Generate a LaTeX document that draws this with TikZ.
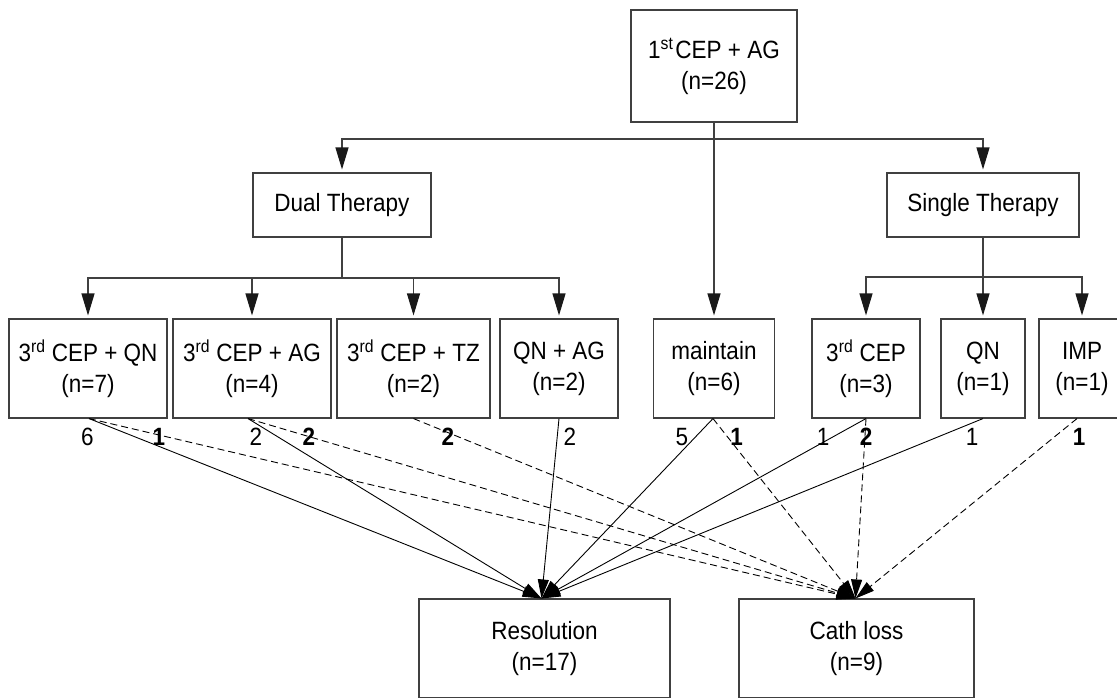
\documentclass[tikz,border=0pt]{standalone}
\usepackage{fontspec}
\setmainfont[FakeStretch=0.9]{Liberation Sans}
\usetikzlibrary{arrows.meta}
\begin{document}
\begin{tikzpicture}[x=1pt,y=-1pt,
  every node/.style={font=\fontsize{25}{31}\selectfont},
  boxnode/.style={draw=black!75, line width=1.1pt, rectangle, inner sep=0pt, align=center, minimum height=99pt},
  treeline/.style={draw=black!75, line width=1.1pt},
  treearrow/.style={treeline, -{Triangle[length=22pt,width=13pt,color=black!90]}, shorten >=3pt},
  outarrow/.style={draw=black, line width=0.9pt, -{Triangle[length=19pt,width=11pt]}},
  outdash/.style={outarrow, dash pattern=on 7pt off 4pt},
  cnt/.style={inner sep=0pt, anchor=center},
  bcnt/.style={cnt, font=\fontsize{25}{31}\selectfont\bfseries}
]
\useasboundingbox (0,0) rectangle (1117,697);
\clip (0,0) rectangle (1117,697);

% nodes
\node[boxnode, minimum width=166pt, minimum height=112pt] (top) at (714,66) {1\textsuperscript{st}\hspace{2pt}CEP + AG\\(n=26)};
\node[boxnode, minimum width=178pt, minimum height=64pt] (dual) at (342,205) {Dual Therapy};
\node[boxnode, minimum width=192pt, minimum height=64pt] (single) at (983,205) {Single Therapy};

\node[boxnode, minimum width=158pt] (b1) at (88,368.5) {3\textsuperscript{rd} CEP + QN\\(n=7)};
\node[boxnode, minimum width=158pt] (b2) at (252,368.5) {3\textsuperscript{rd} CEP + AG\\(n=4)};
\node[boxnode, minimum width=153pt] (b3) at (413.5,368.5) {3\textsuperscript{rd} CEP + TZ\\(n=2)};
\node[boxnode, minimum width=118pt] (b4) at (559,368.5) {QN + AG\\(n=2)};
\node[boxnode, minimum width=121pt] (maint) at (714,368.5) {maintain\\(n=6)};
\node[boxnode, minimum width=108pt] (cep3) at (866,368.5) {3\textsuperscript{rd} CEP\\(n=3)};
\node[boxnode, minimum width=84pt] (qn) at (983,368.5) {QN\\(n=1)};
\node[boxnode, minimum width=86pt] (imp) at (1082,368.5) {IMP\\(n=1)};

\node[boxnode, minimum width=251pt] (res) at (544.5,648.5) {Resolution\\(n=17)};
\node[boxnode, minimum width=235pt] (cath) at (856.5,648.5) {Cath loss\\(n=9)};

% tree connectors
\coordinate (split) at (714,139);
\coordinate (dsplit) at (342,278);
\coordinate (ssplit) at (983,277);
\draw[treearrow] (top) -- (maint);
\draw[treearrow] (split) -| (dual);
\draw[treearrow] (split) -| (single);
\draw[treeline] (dual) -- (dsplit);
\draw[treearrow] (dsplit) -| (b1);
\draw[treearrow] (dsplit) -| (b2);
\draw[treearrow] (dsplit) -| (b3);
\draw[treearrow] (dsplit) -| (b4);
\draw[treearrow] (single) -- (qn);
\draw[treearrow] (ssplit) -| (cep3);
\draw[treearrow] (ssplit) -| (imp);

% outcome connectors
\coordinate (rin) at ([xshift=-3pt]res.north);
\coordinate (cin) at ([xshift=-1pt]cath.north);
\draw[outarrow] ([xshift=1pt]b1.south) -- (rin);
\draw[outarrow] ([xshift=-4pt]b2.south) -- (rin);
\draw[outarrow] (b4.south) -- (rin);
\draw[outarrow] ([xshift=-1pt]maint.south) -- (rin);
\draw[outarrow] (cep3.south) -- (rin);
\draw[outarrow] (qn.south) -- (rin);

\draw[outdash] ([xshift=1pt]b1.south) -- (cin);
\draw[outdash] ([xshift=-4pt]b2.south) -- (cin);
\draw[outdash] (b3.south) -- (cin);
\draw[outdash] ([xshift=-1pt]maint.south) -- (cin);
\draw[outdash] (cep3.south) -- (cin);
\draw[outdash] ([xshift=-5pt]imp.south) -- (cin);

% count labels
\node[cnt] (l1a) at (87.5,437) {6};
\node[bcnt] (l1b) at (159,437) {1};
\node[cnt] (l2a) at (256,437) {2};
\node[bcnt] (l2b) at (309,437) {2};
\node[bcnt] (l3) at (448,437) {2};
\node[cnt] (l4) at (570,437) {2};
\node[cnt] (l5a) at (682,437) {5};
\node[bcnt] (l5b) at (736.5,437) {1};
\node[cnt] (l6a) at (823,437) {1};
\node[bcnt] (l6b) at (866,437) {2};
\node[cnt] (l7) at (972,437) {1};
\node[bcnt] (l8) at (1079,437) {1};
\end{tikzpicture}
\end{document}
